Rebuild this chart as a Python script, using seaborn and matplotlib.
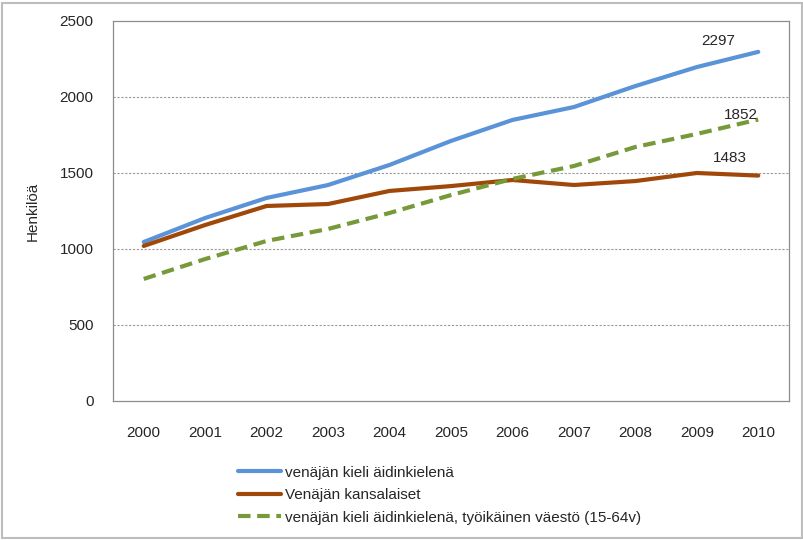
import numpy as np
import pandas as pd
import matplotlib
matplotlib.use("Agg")
import matplotlib.pyplot as plt
import seaborn as sns
from matplotlib.patches import Rectangle

# data
years = [2000, 2001, 2002, 2003, 2004, 2005, 2006, 2007, 2008, 2009, 2010]
aidinkieli = [1046, 1204, 1336, 1421, 1553, 1711, 1849, 1934, 2072, 2197, 2297]
kansalaiset = [1020, 1158, 1283, 1296, 1382, 1414, 1454, 1421, 1447, 1500, 1483]
tyoikaiset = [803, 934, 1053, 1132, 1237, 1355, 1461, 1546, 1671, 1757, 1852]

labels = ["venäjän kieli äidinkielenä",
          "Venäjän kansalaiset",
          "venäjän kieli äidinkielenä, työikäinen väestö (15-64v)"]
colors = ["#5B93D8", "#A0480A", "#77993A"]

df = pd.DataFrame({"year": years * 3,
                   "value": aidinkieli + kansalaiset + tyoikaiset,
                   "series": [labels[0]] * 11 + [labels[1]] * 11 + [labels[2]] * 11})

sns.set_style("white")
plt.rcParams['font.family'] = ['Liberation Sans', 'DejaVu Sans']

fig = plt.figure(figsize=(8.04, 5.4), dpi=100)
ax = fig.add_axes([113 / 804, 1 - 401 / 540, (789 - 113) / 804, (401 - 21) / 540])

for lab, col in zip(labels, colors):
    sub = df[df["series"] == lab]
    ls = (0, (3, 1.6)) if lab == labels[2] else "-"
    sns.lineplot(data=sub, x="year", y="value", ax=ax, color=col, lw=3,
                 linestyle=ls, label=lab, legend=False)

ax.set_xlim(1999.5, 2010.5)
ax.set_ylim(0, 2500)
ax.set_xticks(years)
ax.set_yticks([0, 500, 1000, 1500, 2000, 2500])
ax.tick_params(axis="both", labelsize=11, length=0)
ax.tick_params(axis="x", pad=18)
ax.tick_params(axis="y", pad=14)
ax.set_xlabel("")
ax.set_ylabel("Henkilöä", fontsize=11, labelpad=14)
for y in [500, 1000, 1500, 2000]:
    ax.axhline(y, color="#999999", lw=0.8, ls=(0, (2, 1.5)), zorder=0)
for s in ax.spines.values():
    s.set_color("#8c8c8c")
    s.set_linewidth(0.9)

# end labels (placed like the data labels of the original)
for vals, dx, dy in [(aidinkieli, -0.66, 70), (tyoikaiset, -0.28, 30), (kansalaiset, -0.46, 116)]:
    ax.text(years[-1] + dx, vals[-1] + dy, str(vals[-1]), ha="center", va="center",
            fontsize=11)

handles, lbls = ax.get_legend_handles_labels()
fig.legend(handles, lbls, loc="upper left", bbox_to_anchor=(224 / 804, 1 - 452 / 540),
           frameon=False, fontsize=11, handlelength=2.8, labelspacing=0.55,
           handletextpad=0.3)

# outer chart border
fig.patches.append(Rectangle((0.002, 0.004), 0.996, 0.99, transform=fig.transFigure,
                             fill=False, edgecolor="#bdbdbd", lw=1.5))

fig.savefig("out.png", dpi=100)
